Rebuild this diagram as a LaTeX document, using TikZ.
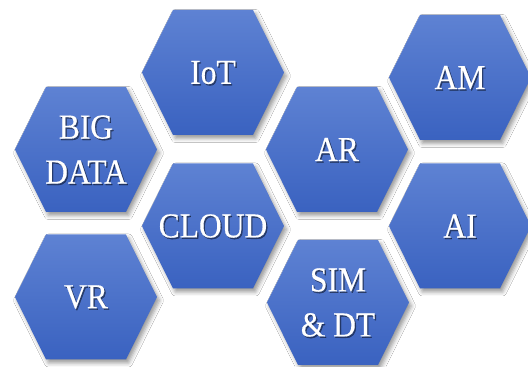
\documentclass[tikz,border=0pt]{standalone}
\usepackage{fontspec}
\setmainfont{Liberation Serif}[FakeStretch=0.9, FakeBold=0.4]
\usetikzlibrary{shadows.blur,calc}

\definecolor{hextop}{RGB}{94,130,211}
\definecolor{hexbot}{RGB}{58,98,192}

\tikzset{
  hexcell/.style={top color=hextop, bottom color=hexbot, draw=none,
    blur shadow={shadow xshift=2.5pt, shadow yshift=-3.5pt,
      shadow blur radius=4pt, shadow opacity=40}},
  hexlabel/.style={text=white, font=\fontsize{35}{45}\selectfont,
    align=center, inner sep=0pt},
  hexlabelshade/.style={hexlabel, text=black, opacity=0.45},
}

% One hexagonal cell: #1 name, #2 centre, #3 label
\newcommand\hexcellat[3]{%
  \begin{scope}[shift={(#2)}]
    \path[hexcell] (-71,0) -- (-40,62.5) -- (40,62.5) -- (71,0)
      -- (40,-62.5) -- (-40,-62.5) -- cycle;
  \end{scope}
  \node[hexlabelshade] (#1-sh) at ($(#2)+(1.3,-1.5)$) {#3};
  \node[hexlabel] (#1) at (#2) {#3};
}

\begin{document}
\begin{tikzpicture}[x=1pt, y=1pt]
  \useasboundingbox[fill=white] (0,0) rectangle (528,367);

  \hexcellat{iot}{213,294.5}{IoT}
  \hexcellat{am}{460,289.5}{AM}
  \hexcellat{bigdata}{86,217.5}{BIG\\DATA}
  \hexcellat{ar}{337,217.5}{AR}
  \hexcellat{cloud}{213,141}{CLOUD}
  \hexcellat{ai}{460,141}{AI}
  \hexcellat{vr}{86,70}{VR}
  \hexcellat{simdt}{338,64.5}{SIM\\\& DT}
\end{tikzpicture}
\end{document}
